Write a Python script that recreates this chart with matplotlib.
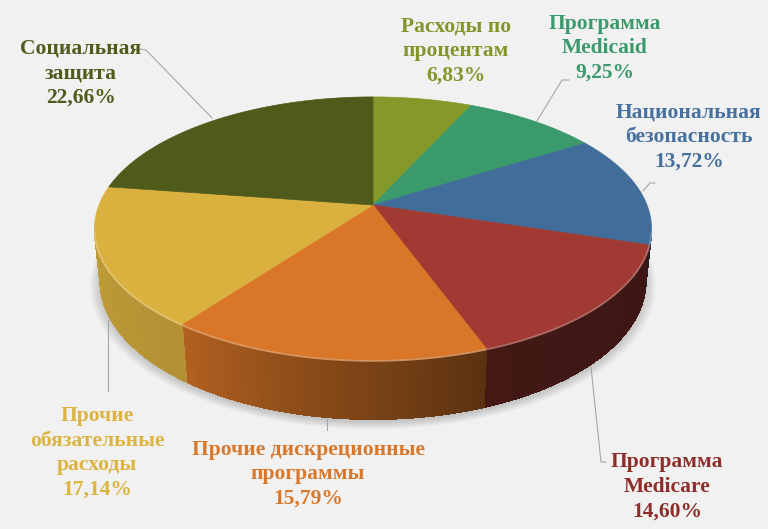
import numpy as np
import matplotlib
matplotlib.use("Agg")
import matplotlib.pyplot as plt
from matplotlib.patches import Polygon

# ---- data ----
labels = ["Расходы по\nпроцентам", "Программа\nMedicaid", "Национальная\nбезопасность",
          "Программа\nMedicare", "Прочие дискреционные\nпрограммы",
          "Прочие\nобязательные\nрасходы", "Социальная\nзащита"]
shares = [6.83, 9.25, 13.72, 14.60, 15.79, 17.14, 22.66]
colors = ["#85992B", "#3A9A6C", "#416D9B", "#A03A33", "#D97627", "#DAB13F", "#4F5B1A"]
label_colors = ["#84962B", "#3A9A6C", "#46709E", "#8E2E2A", "#D9772A", "#DDB43F", "#4F5B1A"]

# label anchor (center of text block) and leader lines, in pixels
label_pos = [(456, 51), (605, 48), (689, 137), (667, 487), (308, 474), (97, 453), (81, 73)]
leaders = [None,
           [(569, 80), (562, 80), (537, 121)],
           [(655, 183), (650, 183), (643, 191)],
           [(591, 367), (601, 462), (606, 462)],
           [(327, 419), (327, 430)],
           [(108, 320), (108, 391)],
           [(140, 49), (146, 50), (212, 118)]]

# ---- projection of a tilted disk (perspective) ----
cx, cy0, S = 373.0, 205.0, 274.0
elev = np.radians(27.7)
s_e, c_e = np.sin(elev), np.cos(elev)
D = 4.96
H = 0.218


def proj(x, y, z):
    depth = 1 + (y * c_e - z * s_e) / D
    return cx + S * x / depth, cy0 - S * (y * s_e + z * c_e) / depth


def shade(phi_deg):
    p = phi_deg % 360
    return np.interp(p, [180, 233, 290, 360], [0.9, 0.82, 0.42, 0.36])


def darker(col, f):
    rgb = np.array(matplotlib.colors.to_rgb(col))
    return tuple(np.clip(rgb * f, 0, 1))


def lighter(col, f):
    rgb = np.array(matplotlib.colors.to_rgb(col))
    return tuple(rgb + (1 - rgb) * f)


fig = plt.figure(figsize=(7.68, 5.29), dpi=100)
fig.patch.set_facecolor("#F1F1F1")
ax = fig.add_axes([0, 0, 1, 1])
ax.set_xlim(0, 768)
ax.set_ylim(529, 0)
ax.axis("off")
ax.set_facecolor("#F1F1F1")

cum = np.concatenate([[0], np.cumsum(shares)]) / sum(shares)
starts = 90 - 360 * cum[:-1]
ends = 90 - 360 * cum[1:]

# soft shadow under the pie
phis = np.radians(np.linspace(0, 360, 361))
for grow in np.linspace(1.035, 1.0, 6):
    bx, by = proj(grow * np.cos(phis), grow * np.sin(phis), -H)
    ax.add_patch(Polygon(np.column_stack([bx, by + 3]), closed=True,
                         facecolor="black", edgecolor="none", alpha=0.03, zorder=1))


def visible(phi_rad):
    return 1 + D * c_e * np.sin(phi_rad) < 0


# side walls
for k in range(len(shares)):
    ph = np.linspace(starts[k], ends[k], max(int(abs(ends[k] - starts[k]) * 2), 2))
    vis = [p for p in ph if visible(np.radians(p))]
    if len(vis) < 2:
        continue
    vr = np.radians(vis)
    # one smooth outline polygon with the mean colour (clean antialiased edges)
    tx, ty = proj(np.cos(vr), np.sin(vr), 0)
    bx, by = proj(np.cos(vr), np.sin(vr), -H)
    outline = np.vstack([np.column_stack([tx, ty]), np.column_stack([bx, by])[::-1]])
    mcol = darker(colors[k], shade(np.mean(vis)))
    ax.add_patch(Polygon(outline, closed=True, facecolor=mcol, edgecolor=mcol,
                         lw=0.5, zorder=2))
    # gradient strips on top of it
    for a, b in zip(vis[:-1], vis[1:]):
        ra, rb = np.radians(a), np.radians(b)
        x1, y1 = proj(np.cos(ra), np.sin(ra), 0)
        x2, y2 = proj(np.cos(rb), np.sin(rb), 0)
        x3, y3 = proj(np.cos(rb), np.sin(rb), -H)
        x4, y4 = proj(np.cos(ra), np.sin(ra), -H)
        col = darker(colors[k], shade((a + b) / 2))
        ax.add_patch(Polygon([(x1, y1), (x2, y2), (x3, y3), (x4, y4)], closed=True,
                             facecolor=col, edgecolor=col, lw=0.6,
                             antialiased=False, zorder=2.1))

# top face
for k in range(len(shares)):
    ph = np.radians(np.linspace(starts[k], ends[k], 120))
    tx, ty = proj(np.cos(ph), np.sin(ph), 0)
    vx, vy = proj(0, 0, 0)
    pts = np.vstack([[vx, vy], np.column_stack([tx, ty])])
    ax.add_patch(Polygon(pts, closed=True, facecolor=colors[k], edgecolor=colors[k],
                         lw=0.5, zorder=3))
    # light bevel on the front rim
    front = np.sin(ph) < -0.2
    if front.sum() > 1:
        ax.plot(tx[front], ty[front] + 0.8, color=lighter(colors[k], 0.35), lw=1.3,
                alpha=0.8, zorder=4, solid_capstyle="butt")

# leader lines
for seg in leaders:
    if seg is None:
        continue
    xs, ys = zip(*seg)
    ax.plot(xs, ys, color="#A6A6A6", lw=0.8, zorder=5)

# labels
for k in range(len(shares)):
    txt = f"{labels[k]}\n{shares[k]:.2f}%".replace(".", ",")
    ax.text(label_pos[k][0], label_pos[k][1], txt, ha="center", va="center",
            fontsize=15.5, fontweight="bold", color=label_colors[k],
            family=["Liberation Serif", "DejaVu Serif"], linespacing=1.3, zorder=6)

fig.savefig("out.png", dpi=100, facecolor=fig.get_facecolor())
